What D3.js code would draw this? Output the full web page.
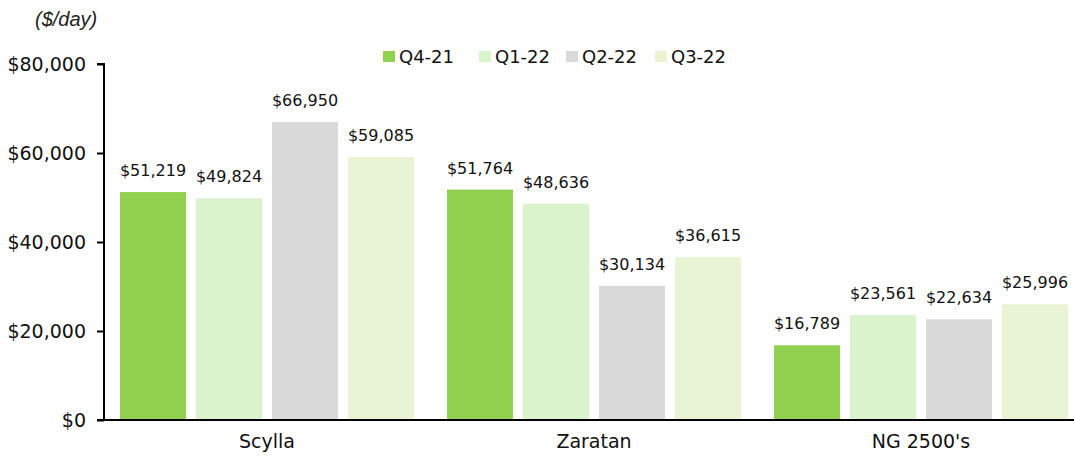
<!DOCTYPE html>
<html><head><meta charset="utf-8">
<script src="https://cdn.jsdelivr.net/npm/d3@7"></script>
<style>body{margin:0;background:#fff}svg{display:block}</style>
</head><body><svg id="c" width="1074" height="458"></svg>
<script>
const categories = ["Scylla", "Zaratan", "NG 2500's"];
const seriesNames = ["Q4-21", "Q1-22", "Q2-22", "Q3-22"];
const q421 = [51219, 51764, 16789];
const q122 = [49824, 48636, 23561];
const q222 = [66950, 30134, 22634];
const q322 = [59085, 36615, 25996];
const seriesValues = [q421, q122, q222, q322];
const yTicks = [0, 20000, 40000, 60000, 80000];
const colors = ["#92d050", "#daf3cd", "#d9d9d9", "#e8f4d4"];

const svg = d3.select("#c");
const font = "DejaVu Sans";
const y = d3.scaleLinear().domain([0, 80000]).range([420, 64]);
const x0 = d3.scaleBand().domain(categories).range([103.5, 1084.5]).paddingInner(0).paddingOuter(0);
const x1 = d3.scaleBand().domain(seriesNames).range([16.5, 327 - 16.5]).paddingInner(10/76).paddingOuter(0);
const fmt = d3.format("$,");

// bars
categories.forEach((cat, ci) => {
  const g = svg.append("g").attr("transform", `translate(${x0(cat)},0)`);
  seriesNames.forEach((s, si) => {
    const v = seriesValues[si][ci];
    g.append("rect").attr("x", x1(s)).attr("y", y(v)).attr("width", x1.bandwidth())
      .attr("height", y(0) - y(v)).attr("fill", colors[si]);
    g.append("text").attr("x", x1(s) + x1.bandwidth()/2).attr("y", y(v) - 16)
      .attr("text-anchor", "middle").attr("font-family", font).attr("font-size", 16)
      .attr("fill", "#111").text(fmt(v));
  });
});

// y axis
const ya = d3.axisLeft(y).tickValues(yTicks).tickFormat(d => fmt(d)).tickSize(7).tickPadding(11);
const yg = svg.append("g").attr("transform", "translate(104,0)").call(ya);
yg.select(".domain").attr("stroke", "#000").attr("stroke-width", 2).attr("d", "M-7,64H0V420");
yg.selectAll(".tick line").attr("stroke", "#000").attr("stroke-width", 2);
yg.selectAll("text").attr("font-family", font).attr("font-size", 19).attr("fill", "#111");

// x axis
const xa = d3.axisBottom(x0).tickSize(0).tickPadding(15);
const xg = svg.append("g").attr("transform", "translate(0,420)").call(xa);
xg.select(".domain").attr("stroke", "#000").attr("stroke-width", 2).attr("d", "M97,0H1074");
xg.selectAll("text").attr("font-family", font).attr("font-size", 19).attr("fill", "#111");

// unit label
svg.append("text").attr("x", 35).attr("y", 26).attr("font-family", "Liberation Sans")
  .attr("font-style", "italic").attr("font-size", 20).attr("fill", "#222").text("($/day)");

// legend
const legX = [383, 479, 566, 655];
seriesNames.forEach((s, i) => {
  svg.append("rect").attr("x", legX[i]).attr("y", 51).attr("width", 12).attr("height", 11).attr("fill", colors[i]);
  svg.append("text").attr("x", legX[i] + 16).attr("y", 63).attr("font-family", font)
    .attr("font-size", 18).attr("fill", "#111").text(s);
});
</script></body></html>
